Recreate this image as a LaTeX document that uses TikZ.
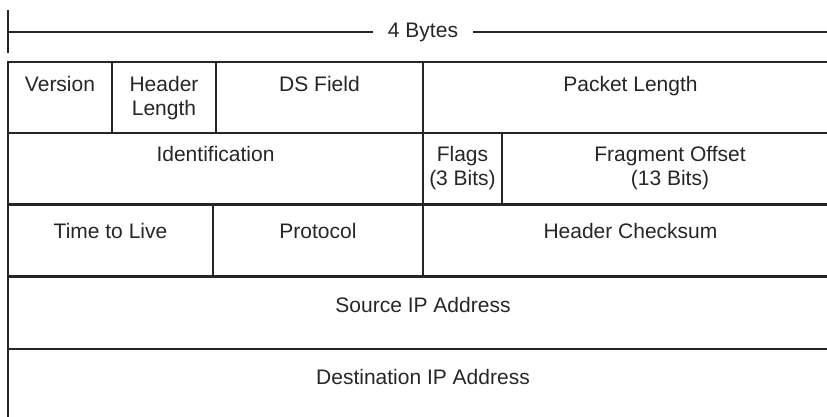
\documentclass[tikz,border=0pt]{standalone}
\usepackage{fontspec}
\setmainfont{Liberation Sans}
\definecolor{ink}{HTML}{262626}
\begin{document}
\begin{tikzpicture}[x=1pt,y=-1pt,
  grid/.style={draw=ink,line width=2.3pt,line cap=rect},
  lab/.style={anchor=base,align=center,inner sep=0pt,text=ink,font=\fontsize{21}{24.5}\selectfont}]
\useasboundingbox (0,0) rectangle (827,416);
\clip (0,0) rectangle (827,416);
% width bracket
\coordinate (tt) at (8,11);
\coordinate (tb) at (8,52);
\coordinate (bl) at (8,32);
\coordinate (br) at (845,32);
\node[lab,inner xsep=15pt] (bytes) at (423,37) {4 Bytes};
\draw[grid,line width=2pt] (tt) -- (tb);
\draw[grid,line width=2pt,line cap=butt] (bl) -- (bl -| bytes.west);
\draw[grid,line width=2pt,line cap=butt] (bytes.east |- br) -- (br);
% table rules
\draw[grid] (8,62) -- (860,62);
\draw[grid] (8,133) -- (860,133);
\draw[grid] (8,204.5) -- (860,204.5);
\draw[grid] (8,276.5) -- (860,276.5);
\draw[grid] (8,349) -- (860,349);
\draw[grid] (8,62) -- (8,430);
\draw[grid] (838,62) -- (838,430);
\draw[grid] (112,62) -- (112,133);
\draw[grid] (216,62) -- (216,133);
\draw[grid] (423,62) -- (423,276.5);
\draw[grid] (502,133) -- (502,204.5);
\draw[grid] (213,204.5) -- (213,276.5);
% labels (base anchor = baseline of the last line)
\node[lab] (ver) at (60,91) {Version};
\node[lab] (hl) at (164,115.5) {Header\\Length};
\node[lab] (ds) at (319.5,91) {DS Field};
\node[lab] (pl) at (630.5,91) {Packet Length};
\node[lab] (id) at (215.5,161) {Identification};
\node[lab] (fl) at (462.5,185.5) {Flags\\(3 Bits)};
\node[lab] (fo) at (670,185.5) {Fragment Offset\\(13 Bits)};
\node[lab] (ttl) at (110.5,238) {Time to Live};
\node[lab] (pr) at (318,238) {Protocol};
\node[lab] (hc) at (630.5,238) {Header Checksum};
\node[lab] (src) at (423,312) {Source IP Address};
\node[lab] (dst) at (423,384) {Destination IP Address};
\end{tikzpicture}
\end{document}
